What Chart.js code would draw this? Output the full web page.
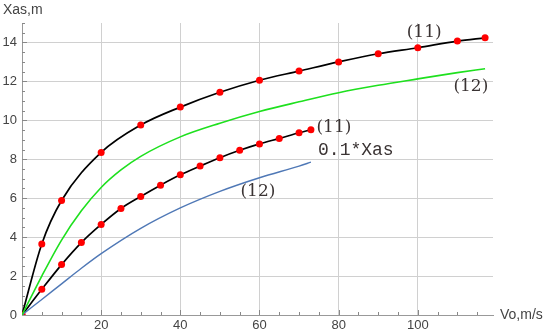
<!DOCTYPE html>
<html>
<head>
<meta charset="utf-8">
<script src="https://cdn.jsdelivr.net/npm/chart.js@4.4.1/dist/chart.umd.min.js"></script>
<style>
  html, body { margin: 0; padding: 0; background: #fff; }
  #wrap { width: 546px; height: 333px; }
</style>
</head>
<body>
<div id="wrap"><canvas id="c" width="546" height="333"></canvas></div>
<script>
// curve (11): distance vs speed, with computed points
const speeds11 = [0, 5, 10, 20, 30, 40, 50, 60, 70, 80, 90, 100, 110, 117];
const range11 = [0, 3.65, 5.88, 8.35, 9.76, 10.68, 11.44, 12.06, 12.53, 13.0, 13.42, 13.73, 14.07, 14.24];

// curve (12)
const speeds12 = [0, 5, 10, 15, 20, 25, 30, 40, 50, 60, 70, 80, 90, 100, 110, 117];
const range12 = [0, 2.0, 3.85, 5.35, 6.55, 7.45, 8.15, 9.15, 9.85, 10.45, 10.95, 11.42, 11.8, 12.13, 12.45, 12.65];

// 0.1*Xas versions
const speedsScaled11 = [0, 5, 10, 15, 20, 25, 30, 35, 40, 45, 50, 55, 60, 65, 70, 73];
const rangeScaled11 = [0, 1.32, 2.59, 3.72, 4.65, 5.47, 6.09, 6.67, 7.2, 7.65, 8.08, 8.46, 8.79, 9.07, 9.36, 9.52];
const speedsScaled12 = [0, 5, 10, 15, 20, 30, 40, 50, 60, 70, 73];
const rangeScaled12 = [0, 0.8, 1.6, 2.4, 3.15, 4.45, 5.5, 6.35, 7.05, 7.65, 7.85];

const xTicks = [20, 40, 60, 80, 100];
const yTicks = [0, 2, 4, 6, 8, 10, 12, 14];

const toPoints = (xs, ys) => xs.map((x, i) => ({ x: x, y: ys[i] }));

// text labels next to the curves (data coords)
const curveLabels = [
  { text: "(11)", x: 101.6, y: 14.5, font: '17px "DejaVu Serif"', align: "center", base: "middle" },
  { text: "(12)", x: 113.4, y: 11.73, font: '17px "DejaVu Serif"', align: "center", base: "middle" },
  { text: "(11)", x: 78.8, y: 9.65, font: '17px "DejaVu Serif"', align: "center", base: "middle" },
  { text: "0.1*Xas", x: 74.8, y: 8.23, font: '18px "Liberation Mono"', align: "left", base: "alphabetic" },
  { text: "(12)", x: 59.6, y: 6.33, font: '17px "DejaVu Serif"', align: "center", base: "middle" },
];

const minorTicks = {
  id: "minorTicks",
  beforeDatasetsDraw(chart) {
    const { ctx, scales } = chart;
    const xs = scales.x, ys = scales.y;
    const x0 = xs.getPixelForValue(0), y0 = ys.getPixelForValue(0);
    ctx.save();
    ctx.strokeStyle = "#888";
    ctx.lineWidth = 1;
    ctx.beginPath();
    for (let v = 5; v < 119; v += 5) {
      const px = Math.round(xs.getPixelForValue(v)) + 0.5;
      const len = v % 20 === 0 ? 5 : 3;
      ctx.moveTo(px, y0);
      ctx.lineTo(px, y0 - len);
    }
    for (let v = 0.5; v <= 15; v += 0.5) {
      const py = Math.round(ys.getPixelForValue(v)) + 0.5;
      const len = v % 2 === 0 ? 5 : 3;
      ctx.moveTo(x0, py);
      ctx.lineTo(x0 + len, py);
    }
    ctx.stroke();
    ctx.restore();
  },
};

const textLabels = {
  id: "textLabels",
  afterDatasetsDraw(chart) {
    const { ctx, scales } = chart;
    ctx.save();
    ctx.fillStyle = "#3a3333";
    curveLabels.forEach((l) => {
      ctx.font = l.font;
      ctx.textAlign = l.align;
      ctx.textBaseline = l.base;
      ctx.fillText(l.text, scales.x.getPixelForValue(l.x), scales.y.getPixelForValue(l.y));
    });
    // axis titles
    ctx.fillStyle = "#444";
    ctx.font = '14px "Liberation Sans"';
    ctx.textAlign = "left";
    ctx.textBaseline = "middle";
    ctx.fillText("Xas,m", 3, 10);
    ctx.fillText("Vo,m/s", 500, 315);
    ctx.restore();
  },
};

const lineOpts = (color, width) => ({
  borderColor: color,
  borderWidth: width,
  pointRadius: 0,
  cubicInterpolationMode: "monotone",
  fill: false,
});

new Chart(document.getElementById("c"), {
  type: "line",
  data: {
    datasets: [
      Object.assign({ data: toPoints(speeds12, range12) }, lineOpts("#1ee01e", 1.6)),
      Object.assign({ data: toPoints(speedsScaled12, rangeScaled12) }, lineOpts("#4f78b6", 1.4)),
      Object.assign({ data: toPoints(speeds11, range11) }, lineOpts("#000", 1.7), {
        pointRadius: 3.5,
        pointBackgroundColor: "#f00",
        pointBorderColor: "#f00",
        pointBorderWidth: 0,
      }),
      Object.assign({ data: toPoints(speedsScaled11, rangeScaled11) }, lineOpts("#000", 1.7), {
        pointRadius: 3.5,
        pointBackgroundColor: "#f00",
        pointBorderColor: "#f00",
        pointBorderWidth: 0,
      }),
    ],
  },
  options: {
    responsive: false,
    animation: false,
    devicePixelRatio: 1,
    layout: { padding: { top: 23, right: 53, left: 0, bottom: 0 } },
    plugins: {
      legend: { display: false },
      tooltip: { enabled: false },
    },
    scales: {
      x: {
        type: "linear",
        min: 0,
        max: 119,
        afterBuildTicks: (s) => { s.ticks = xTicks.map((v) => ({ value: v })); },
        afterFit: (s) => { s.height = 18; },
        grid: { color: "#d0d0d0", lineWidth: 1, drawTicks: false },
        border: { display: true, color: "#999", width: 1 },
        ticks: {
          padding: 3,
          color: "#444",
          font: { family: "Liberation Sans", size: 13 },
          maxRotation: 0,
          autoSkip: false,
        },
      },
      y: {
        type: "linear",
        min: 0,
        max: 15,
        afterBuildTicks: (s) => { s.ticks = yTicks.map((v) => ({ value: v })); },
        afterFit: (s) => { s.width = 22; },
        grid: { color: "#d0d0d0", lineWidth: 1, drawTicks: false },
        border: { display: true, color: "#999", width: 1 },
        ticks: {
          padding: 5,
          color: "#444",
          font: { family: "Liberation Sans", size: 13 },
          autoSkip: false,
        },
      },
    },
  },
  plugins: [minorTicks, textLabels],
});
</script>
</body>
</html>
